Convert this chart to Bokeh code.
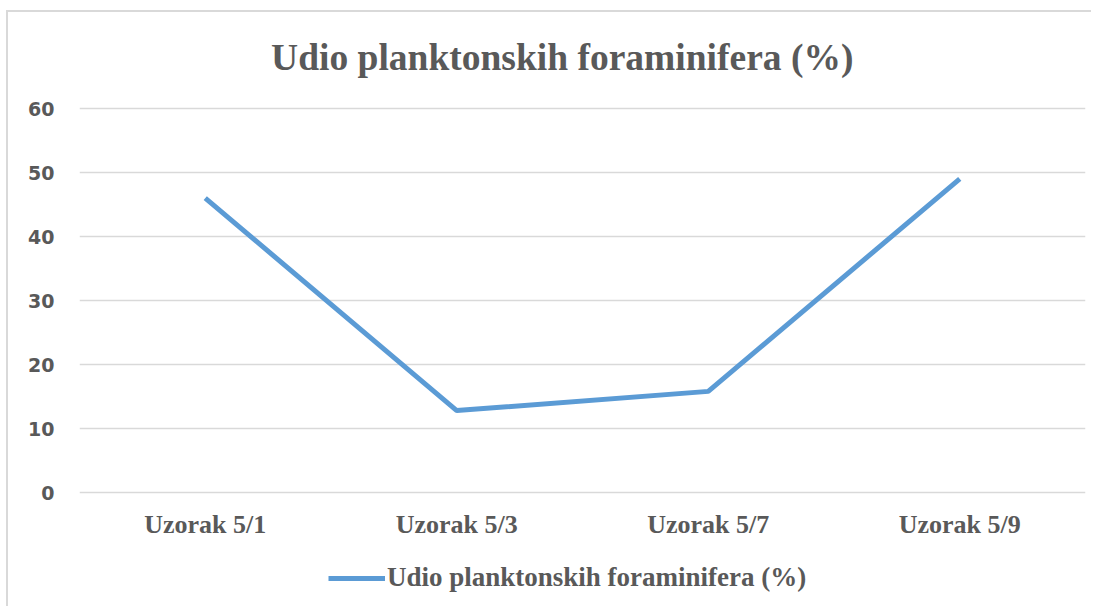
from bokeh.plotting import figure
from bokeh.models import Range1d, FactorRange, Legend, LegendItem, FixedTicker, Label
from bokeh.embed import file_html
from bokeh.resources import INLINE

categories = ["Uzorak 5/1", "Uzorak 5/3", "Uzorak 5/7", "Uzorak 5/9"]
values = [46, 12.8, 15.8, 49]
y_ticks = [0, 10, 20, 30, 40, 50, 60]
title_text = "Udio planktonskih  foraminifera (%)"
series_name = "Udio planktonskih foraminifera (%)"

GRAY = "#595959"
BLUE = "#5b9bd5"

# layout constants (data units of the value axis / synthetic category axis)
Y_MIN, Y_MAX = -17.5, 75
XLABEL_Y = -5.0
TITLE_X, TITLE_Y = 1.938, 68.0

p = figure(width=1085, height=596, x_range=FactorRange(*categories),
           y_range=Range1d(Y_MIN, Y_MAX), output_backend="svg",
           toolbar_location=None, min_border_left=71, min_border_right=8,
           min_border_top=0, min_border_bottom=4)
p.styles = {"border-left": "2px solid #d9d9d9", "border-top": "2px solid #d9d9d9",
            "margin-left": "6px", "margin-top": "10px"}
p.outline_line_color = None
p.background_fill_color = "white"
p.border_fill_color = "white"

r = p.line(categories, values, line_color=BLUE, line_width=5)

# category labels under the plot
p.text(x=categories, y=[XLABEL_Y] * len(categories), text=categories,
       text_align="center", text_baseline="alphabetic",
       text_font={"value": "Liberation Serif"}, text_font_style="bold",
       text_font_size="26px", text_color=GRAY)

title = Label(x=TITLE_X, y=TITLE_Y, text=title_text, text_align="center",
              text_baseline="alphabetic", text_font="Liberation Serif",
              text_font_style="bold", text_font_size="37.5px", text_color=GRAY)
p.add_layout(title)

p.xaxis.visible = False
p.xgrid.grid_line_color = None
p.ygrid.grid_line_color = "#d9d9d9"
p.ygrid.grid_line_width = 1.5
p.ygrid.ticker = FixedTicker(ticks=y_ticks)
p.yaxis.ticker = FixedTicker(ticks=y_ticks)

ax = p.yaxis[0]
ax.axis_line_color = None
ax.major_tick_line_color = None
ax.minor_tick_line_color = None
ax.major_tick_out = 0
ax.major_tick_in = 0
ax.minor_tick_out = 0
ax.major_label_text_color = GRAY
ax.major_label_text_font_style = "bold"
ax.major_label_text_font = "DejaVu Sans"
ax.major_label_text_font_size = "19px"
ax.major_label_standoff = 25

legend = Legend(items=[LegendItem(label=series_name, renderers=[r])],
                location=(249, 11), orientation="horizontal",
                padding=0, margin=0, border_line_color=None,
                background_fill_alpha=0, glyph_width=57, glyph_height=30,
                label_height=30, label_standoff=2,
                label_text_font="Liberation Serif",
                label_text_font_style="bold", label_text_font_size="27px",
                label_text_color=GRAY)
p.add_layout(legend, "center")

open("out.html", "w").write(file_html(p, INLINE))
